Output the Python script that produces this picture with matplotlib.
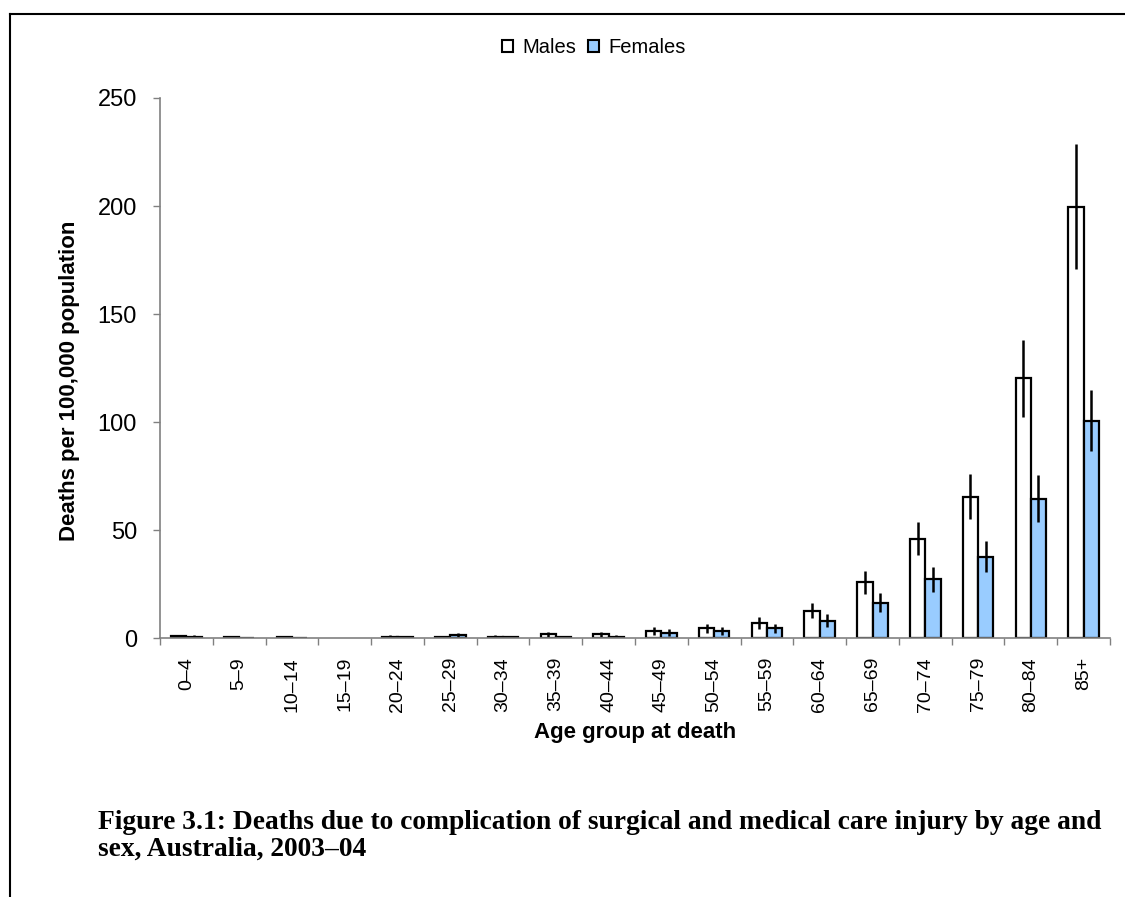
import matplotlib.pyplot as plt
import numpy as np
from matplotlib.patches import Patch
from matplotlib.lines import Line2D

plt.rcParams['font.family'] = ['Liberation Sans', 'DejaVu Sans']

# Deaths per 100,000 population, 2003-04
age_groups = ['0–4', '5–9', '10–14', '15–19', '20–24', '25–29', '30–34', '35–39',
              '40–44', '45–49', '50–54', '55–59', '60–64', '65–69', '70–74',
              '75–79', '80–84', '85+']
males = [0.9, 0.6, 0.5, 0, 0.8, 0.6, 0.8, 1.8, 1.8, 3.5, 4.6, 7.2, 12.8, 25.9,
         46.1, 65.5, 120.3, 199.7]
males_err = [0.6, 0.4, 0.4, 0, 0.5, 0.5, 0.5, 1.2, 1.2, 1.9, 2.0, 2.8, 3.5, 5.3,
             7.7, 10.4, 17.7, 29.0]
females = [0.8, 0.1, 0.1, 0, 0.7, 1.6, 0.7, 0.7, 0.8, 2.6, 3.5, 4.6, 8.2, 16.5,
           27.4, 37.8, 64.6, 100.7]
females_err = [0.5, 0.1, 0.1, 0, 0.5, 0.9, 0.5, 0.5, 0.5, 1.5, 1.8, 2.2, 3.0, 4.5,
               5.8, 7.2, 10.8, 14.1]

male_color = 'white'
female_color = '#99CCFF'

fig = plt.figure(figsize=(11.25, 8.97), dpi=100)
ax = fig.add_axes([160 / 1125, 1 - 638.3 / 897, 950 / 1125, 540.3 / 897])

x = np.arange(len(age_groups))
w = 0.29
m = np.array(males, dtype=float)
f = np.array(females, dtype=float)
err_kw = dict(ecolor='black', elinewidth=1.8, capsize=0)

ax.bar(x - w / 2, np.where(m > 0, m, np.nan), w, yerr=males_err, color=male_color,
       edgecolor='black', linewidth=1.6, error_kw=err_kw, zorder=2)
ax.bar(x + w / 2, np.where(f > 0, f, np.nan), w, yerr=females_err, color=female_color,
       edgecolor='black', linewidth=1.6, error_kw=err_kw, zorder=2)

ax.set_xlim(-0.5, len(age_groups) - 0.5)
ax.set_ylim(0, 250)
ax.set_yticks(np.arange(0, 251, 50))

# labels centred on groups, tick marks between groups
ax.set_xticks(x)
ax.set_xticklabels(age_groups)
ax.set_xticks(np.arange(-0.5, len(age_groups)), minor=True)
ax.tick_params(axis='x', which='major', length=0, pad=13.5, labelsize=14, labelrotation=90)
ax.tick_params(axis='x', which='minor', length=5, width=1, color='#808080', direction='out')
ax.tick_params(axis='y', length=5, width=1, color='#808080', labelsize=17, pad=11.5)

for s in ['top', 'right']:
    ax.spines[s].set_visible(False)
for s in ['left', 'bottom']:
    ax.spines[s].set_color('#808080')
    ax.spines[s].set_linewidth(1.2)

ax.set_xlabel('Age group at death', fontsize=16, fontweight='bold')
ax.set_ylabel('Deaths per 100,000 population', fontsize=16, fontweight='bold')
ax.xaxis.set_label_coords(0.5, (638.3 - 722) / 540.3)
ax.yaxis.set_label_coords((80 - 160) / 950, (638.3 - 381) / 540.3)

handles = [Patch(facecolor=male_color, edgecolor='black', linewidth=1.5, label='Males'),
           Patch(facecolor=female_color, edgecolor='black', linewidth=1.5, label='Females')]
fig.legend(handles=handles, loc='center', bbox_to_anchor=(594 / 1125, 1 - 47.5 / 897),
           ncol=2, frameon=False, fontsize=14.5, handlelength=0.55, handleheight=0.55,
           handletextpad=0.45, columnspacing=0.6)

# frame lines
fig.add_artist(Line2D([10 / 1125, 10 / 1125], [0, 1 - 14 / 897], transform=fig.transFigure,
                      color='black', linewidth=1.5))
fig.add_artist(Line2D([10 / 1125, 1], [1 - 14 / 897, 1 - 14 / 897], transform=fig.transFigure,
                      color='black', linewidth=1.5))

caption_kw = dict(fontfamily='Liberation Serif', fontweight='bold', fontsize=19.8, va='baseline')
fig.text(98 / 1125, 1 - 829 / 897,
         'Figure 3.1: Deaths due to complication of surgical and medical care injury by age and',
         **caption_kw)
fig.text(98 / 1125, 1 - 856 / 897, 'sex, Australia, 2003–04', **caption_kw)

fig.savefig('out.png', dpi=100)
